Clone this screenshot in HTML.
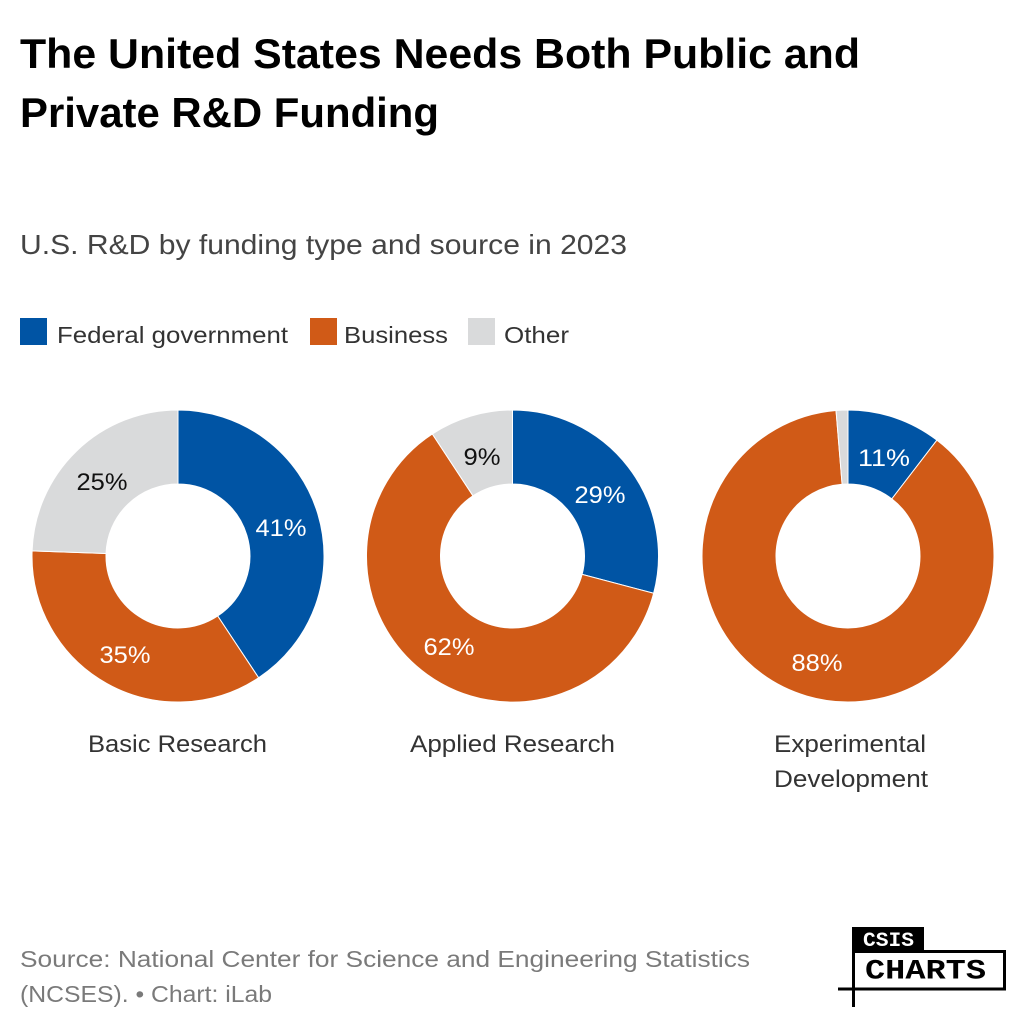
<!DOCTYPE html>
<html>
<head>
<meta charset="utf-8">
<style>
  html, body { margin: 0; padding: 0; background: #ffffff; }
  body { width: 1026px; height: 1028px; overflow: hidden; }
  svg { display: block; }
  .t { font-family: "Liberation Sans", sans-serif; }
</style>
</head>
<body>
<svg width="1026" height="1028" viewBox="0 0 1026 1028" xmlns="http://www.w3.org/2000/svg">
  <rect x="0" y="0" width="1026" height="1028" fill="#ffffff"/>

  <!-- Title -->
  <text class="t" x="20" y="68" font-size="42" font-weight="bold" fill="#000" textLength="840" lengthAdjust="spacingAndGlyphs">The United States Needs Both Public and</text>
  <text class="t" x="20" y="127" font-size="42" font-weight="bold" fill="#000" textLength="419" lengthAdjust="spacingAndGlyphs">Private R&amp;D Funding</text>

  <!-- Subtitle -->
  <text class="t" x="20" y="254" font-size="28" fill="#444" textLength="607" lengthAdjust="spacingAndGlyphs">U.S. R&amp;D by funding type and source in 2023</text>

  <!-- Legend -->
  <rect x="20" y="318" width="27" height="27" fill="#0054a4"/>
  <text class="t" x="57" y="343" font-size="23" fill="#333" textLength="231" lengthAdjust="spacingAndGlyphs">Federal government</text>
  <rect x="310" y="318" width="27" height="27" fill="#d05a17"/>
  <text class="t" x="344" y="343" font-size="23" fill="#333" textLength="104" lengthAdjust="spacingAndGlyphs">Business</text>
  <rect x="468" y="318" width="27" height="27" fill="#d9dadb"/>
  <text class="t" x="504" y="343" font-size="23" fill="#333" textLength="65" lengthAdjust="spacingAndGlyphs">Other</text>

  <!-- Donut 1: Basic Research -->
  <g stroke="#ffffff" stroke-width="1">
    <path d="M178,410 A146,146 0 0 1 258.6,677.75 L217.7,616.0 A72,72 0 0 0 178,484 Z" fill="#0054a4"/>
    <path d="M258.6,677.75 A146,146 0 0 1 32.1,550.9 L106.04,553.49 A72,72 0 0 0 217.7,616.0 Z" fill="#d05a17"/>
    <path d="M32.1,550.9 A146,146 0 0 1 178,410 L178,484 A72,72 0 0 0 106.04,553.49 Z" fill="#d9dadb"/>
  </g>
  <text class="t" x="281" y="536" font-size="24" fill="#fff" text-anchor="middle" textLength="51" lengthAdjust="spacingAndGlyphs">41%</text>
  <text class="t" x="125" y="663" font-size="24" fill="#fff" text-anchor="middle" textLength="51" lengthAdjust="spacingAndGlyphs">35%</text>
  <text class="t" x="102" y="490" font-size="24" fill="#111" text-anchor="middle" textLength="51" lengthAdjust="spacingAndGlyphs">25%</text>

  <!-- Donut 2: Applied Research -->
  <g stroke="#ffffff" stroke-width="1">
    <path d="M512.5,410 A146,146 0 0 1 653.65,593.29 L582.11,574.39 A72,72 0 0 0 512.5,484 Z" fill="#0054a4"/>
    <path d="M653.65,593.29 A146,146 0 1 1 432.35,433.97 L472.97,495.82 A72,72 0 1 0 582.11,574.39 Z" fill="#d05a17"/>
    <path d="M432.35,433.97 A146,146 0 0 1 512.5,410 L512.5,484 A72,72 0 0 0 472.97,495.82 Z" fill="#d9dadb"/>
  </g>
  <text class="t" x="600" y="503" font-size="24" fill="#fff" text-anchor="middle" textLength="51" lengthAdjust="spacingAndGlyphs">29%</text>
  <text class="t" x="449" y="655" font-size="24" fill="#fff" text-anchor="middle" textLength="51" lengthAdjust="spacingAndGlyphs">62%</text>
  <text class="t" x="482" y="465" font-size="24" fill="#111" text-anchor="middle" textLength="37" lengthAdjust="spacingAndGlyphs">9%</text>

  <!-- Donut 3: Experimental Development -->
  <g stroke="#ffffff" stroke-width="1">
    <path d="M848,410 A146,146 0 0 1 936.88,440.16 L891.83,498.88 A72,72 0 0 0 848,484 Z" fill="#0054a4"/>
    <path d="M936.88,440.16 A146,146 0 1 1 836.04,410.49 L842.10,484.24 A72,72 0 1 0 891.83,498.88 Z" fill="#d05a17"/>
    <path d="M836.04,410.49 A146,146 0 0 1 848,410 L848,484 A72,72 0 0 0 842.10,484.24 Z" fill="#d9dadb"/>
  </g>
  <text class="t" x="884" y="466" font-size="24" fill="#fff" text-anchor="middle" textLength="52" lengthAdjust="spacingAndGlyphs">11%</text>
  <text class="t" x="817" y="671" font-size="24" fill="#fff" text-anchor="middle" textLength="51" lengthAdjust="spacingAndGlyphs">88%</text>

  <!-- Category labels -->
  <text class="t" x="177.5" y="752" font-size="24" fill="#333" text-anchor="middle" textLength="179" lengthAdjust="spacingAndGlyphs">Basic Research</text>
  <text class="t" x="512.5" y="752" font-size="24" fill="#333" text-anchor="middle" textLength="205" lengthAdjust="spacingAndGlyphs">Applied Research</text>
  <text class="t" x="850" y="752" font-size="24" fill="#333" text-anchor="middle" textLength="152" lengthAdjust="spacingAndGlyphs">Experimental</text>
  <text class="t" x="851" y="787" font-size="24" fill="#333" text-anchor="middle" textLength="154" lengthAdjust="spacingAndGlyphs">Development</text>

  <!-- Source -->
  <text class="t" x="20" y="967" font-size="23" fill="#7a7a7a" textLength="730" lengthAdjust="spacingAndGlyphs">Source: National Center for Science and Engineering Statistics</text>
  <text class="t" x="20" y="1002" font-size="23" fill="#7a7a7a" textLength="252" lengthAdjust="spacingAndGlyphs">(NCSES). • Chart: iLab</text>

  <!-- CSIS Charts logo -->
  <rect x="852" y="927" width="72" height="25" fill="#000"/>
  <rect x="853.5" y="951.5" width="151" height="37.5" fill="#fff" stroke="#000" stroke-width="3"/>
  <line x1="838" y1="989" x2="855" y2="989" stroke="#000" stroke-width="3"/>
  <line x1="853.5" y1="989" x2="853.5" y2="1007" stroke="#000" stroke-width="3"/>
  <text x="863" y="946" font-family="'Liberation Mono', monospace" font-weight="bold" font-size="20" fill="#fff" textLength="51" lengthAdjust="spacingAndGlyphs">CSIS</text>
  <text x="865" y="978.5" font-family="'Liberation Mono', monospace" font-weight="bold" font-size="28" fill="#000" textLength="121" lengthAdjust="spacingAndGlyphs">CHARTS</text>
</svg>
</body>
</html>
